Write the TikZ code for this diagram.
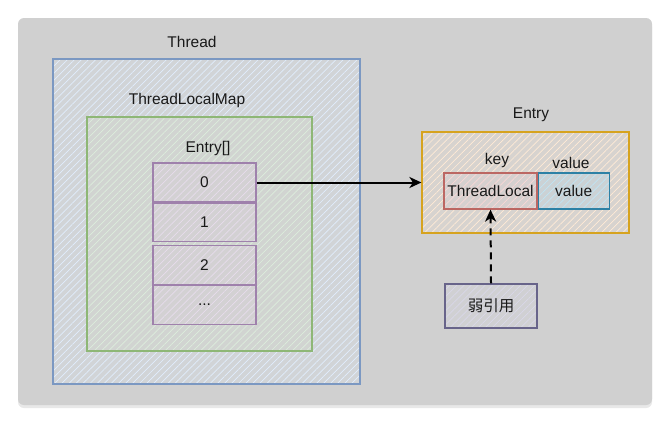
\documentclass[tikz,border=0pt]{standalone}
\usepackage{fontspec}
\setmainfont{Liberation Sans}
\newfontfamily\cjkfont{Noto Sans CJK SC}
\usepackage{xcolor}
\usetikzlibrary{positioning, arrows.meta, shadows, patterns.meta}

\definecolor{cardgray}{HTML}{D0D0D0}
\definecolor{threadline}{HTML}{6C8EBF}
\definecolor{threadfill}{HTML}{DAE8FC}
\definecolor{mapline}{HTML}{82B366}
\definecolor{mapfill}{HTML}{D5E8D4}
\definecolor{cellline}{HTML}{9673A6}
\definecolor{cellfill}{HTML}{E1D5E7}
\definecolor{entryline}{HTML}{D79B00}
\definecolor{entryfill}{HTML}{FFE6CC}
\definecolor{keyline}{HTML}{B85450}
\definecolor{keyfill}{HTML}{F8CECC}
\definecolor{valline}{HTML}{10739E}
\definecolor{valfill}{HTML}{B1DDF0}
\definecolor{refline}{HTML}{56517E}
\definecolor{reffill}{HTML}{D0CEE2}

\begin{document}
\begin{tikzpicture}[
    x=1pt, y=-1pt,
    font=\fontsize{15.5}{18}\selectfont,
    framebox/.style 2 args={
        rectangle,
        draw=#1!85!cardgray,
        line width=1.2pt,
        preaction={fill=#2!15!cardgray},
        pattern={Lines[angle=45, distance=5pt, line width=0.7pt]},
        pattern color=#2!80!white,
        inner sep=0pt,
        align=center,
        text=black!90
    },
    boxlabel/.style={
        text=black!90,
        inner sep=0pt
    },
    arrowline/.style={
        line width=2pt,
        black,
        -{Stealth[length=12pt, width=11pt, inset=3.5pt]}
    }
]
    % Canvas + card
    \fill[white] (0,0) rectangle (671,424);
    \useasboundingbox (0,0) rectangle (671,424);
    \fill[cardgray, rounded corners=6pt,
        drop shadow={shadow xshift=0pt, shadow yshift=-3pt, opacity=0.18}]
        (18,18) rectangle (652,405);

    % Thread + ThreadLocalMap
    \node[framebox={threadline}{threadfill}, minimum width=307pt, minimum height=325pt] (thread) at (206.5,221.5) {};
    \node[boxlabel] (threadlbl) at (192,42) {Thread};

    \node[framebox={mapline}{mapfill}, minimum width=225pt, minimum height=234pt] (tlmap) at (199.5,234) {};
    \node[boxlabel] (tlmaplbl) at (187,100) {ThreadLocalMap};

    % Entry[] slots
    \node[boxlabel] (arraylbl) at (208,148) {Entry[]};
    \node[framebox={cellline}{cellfill}, minimum width=103pt, minimum height=39pt] (cell0) at (204.5,182.5) {0};
    \node[framebox={cellline}{cellfill}, minimum width=103pt, minimum height=38pt, below=0pt of cell0] (cell1) {1};
    \node[framebox={cellline}{cellfill}, minimum width=103pt, minimum height=39pt, below=3pt of cell1] (cell2) {2};
    \node[framebox={cellline}{cellfill}, minimum width=103pt, minimum height=39pt, below=0pt of cell2] (cell3) {...};

    % Entry
    \node[framebox={entryline}{entryfill}, minimum width=207pt, minimum height=101pt] (entry) at (525.5,182.5) {};
    \node[boxlabel] (entrylbl) at (531,115) {Entry};

    \node[framebox={keyline}{keyfill}, minimum width=93pt, minimum height=36pt] (tlocal) at (490.5,191) {ThreadLocal};
    \node[framebox={valline}{valfill}, minimum width=71pt, minimum height=36pt, right=0pt of tlocal] (value) {value};
    \node[boxlabel] (keylbl) at (497,160) {key};
    \node[boxlabel] (valuelbl) at (571,163) {value};

    % Weak reference
    \node[framebox={refline}{reffill}, minimum width=92pt, minimum height=44pt] (weakref) at (491,306) {\cjkfont 弱引用};

    % Arrows
    \draw[arrowline] (cell0.east) -- (entry.west);
    \draw[arrowline, dash pattern=on 7pt off 5pt] (weakref.north) -- (tlocal.south);
\end{tikzpicture}
\end{document}
